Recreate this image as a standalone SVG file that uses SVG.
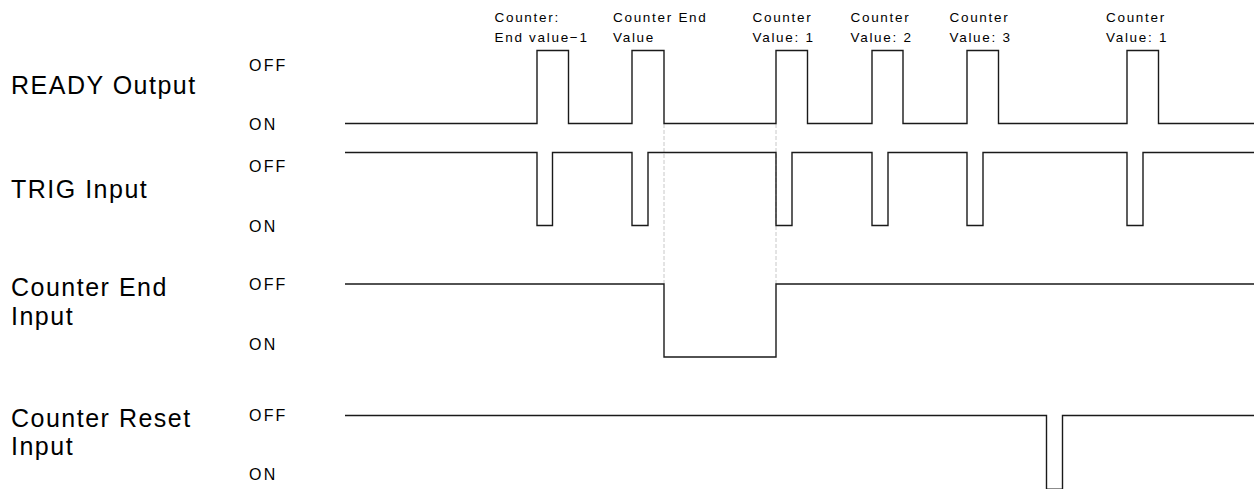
<svg xmlns="http://www.w3.org/2000/svg" width="1257" height="489" viewBox="0 0 1257 489">
<style>
.sig{fill:none;stroke:#1a1a1a;stroke-width:1.4;stroke-linejoin:miter}
.guide{fill:none;stroke:#c8c8c8;stroke-width:1;stroke-dasharray:4 2}
.name{font-family:"Liberation Sans",Arial,sans-serif;font-size:25px;letter-spacing:1.5px;fill:#000}
.lvl{font-family:"Liberation Sans",Arial,sans-serif;font-size:16px;letter-spacing:2.2px;fill:#000}
.ann{font-family:"Liberation Sans",Arial,sans-serif;font-size:13.5px;letter-spacing:1.7px;fill:#000}
</style>
<rect width="1257" height="489" fill="#fff"/>
<g id="guides">
<line class="guide" x1="664" y1="124" x2="664" y2="284"/>
<line class="guide" x1="776" y1="124" x2="776" y2="284"/>
</g>
<g id="connectors">
<path id="ready-wave" class="sig" d="M345,123.5 H537 V50.5 H568.5 V123.5 H632 V50.5 H664 V123.5 H776 V50.5 H807.5 V123.5 H872 V50.5 H903 V123.5 H967 V50.5 H998.5 V123.5 H1127 V50.5 H1158.5 V123.5 H1254"/>
<path id="trig-wave" class="sig" d="M345,152.5 H537 V225.5 H552.5 V152.5 H632 V225.5 H648 V152.5 H776 V225.5 H792 V152.5 H872 V225.5 H888 V152.5 H967 V225.5 H983 V152.5 H1127 V225.5 H1143 V152.5 H1254"/>
<path id="end-wave" class="sig" d="M345,284 H664 V357 H776 V284 H1254"/>
<path id="reset-wave" class="sig" d="M345,415.5 H1046.5 V489.2 H1062.5 V415.5 H1254"/>
</g>
<g id="ready">
<text class="name" x="11" y="94">READY Output</text>
<text class="lvl" x="249" y="70.5">OFF</text>
<text class="lvl" x="249" y="129.5">ON</text>
</g>
<g id="trig">
<text class="name" x="11" y="197.5">TRIG Input</text>
<text class="lvl" x="249" y="172">OFF</text>
<text class="lvl" x="249" y="232">ON</text>
</g>
<g id="counter-end">
<text class="name" x="11" y="295.5">Counter End</text>
<text class="name" x="11" y="324.5">Input</text>
<text class="lvl" x="249" y="289.5">OFF</text>
<text class="lvl" x="249" y="349.5">ON</text>
</g>
<g id="counter-reset">
<text class="name" x="11" y="426.5">Counter Reset</text>
<text class="name" x="11" y="455">Input</text>
<text class="lvl" x="249" y="420.5">OFF</text>
<text class="lvl" x="249" y="479.5">ON</text>
</g>
<g id="annotations">
<text class="ann" x="494.5" y="22">Counter:</text>
<text class="ann" x="494.5" y="42">End value−1</text>
<text class="ann" x="613" y="22">Counter End</text>
<text class="ann" x="613" y="42">Value</text>
<text class="ann" x="752.5" y="22">Counter</text>
<text class="ann" x="752.5" y="42">Value: 1</text>
<text class="ann" x="850.5" y="22">Counter</text>
<text class="ann" x="850.5" y="42">Value: 2</text>
<text class="ann" x="949.5" y="22">Counter</text>
<text class="ann" x="949.5" y="42">Value: 3</text>
<text class="ann" x="1106" y="22">Counter</text>
<text class="ann" x="1106" y="42">Value: 1</text>
</g>
</svg>
